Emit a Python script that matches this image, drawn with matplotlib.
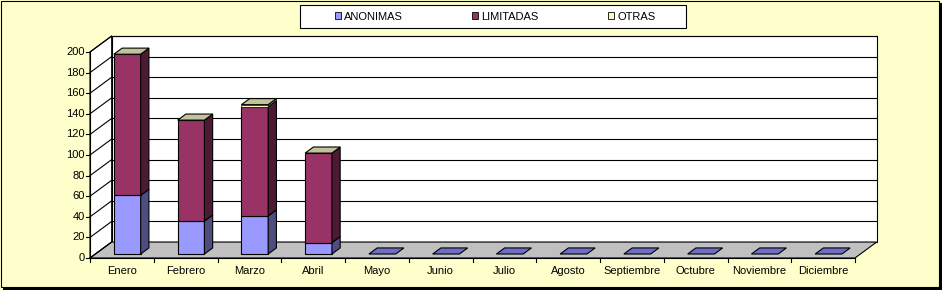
"""
Sociedades constituidas por mes — grafico de barras apiladas estilo 3D (Excel)
"""

import matplotlib.pyplot as plt
from matplotlib.patches import Rectangle, Polygon
from matplotlib.lines import Line2D

plt.rcParams["font.family"] = ["Liberation Sans", "DejaVu Sans"]

# ── Datos ──────────────────────────────────────────────────────────────────────
MESES = ["Enero", "Febrero", "Marzo", "Abril", "Mayo", "Junio", "Julio",
         "Agosto", "Septiembre", "Octubre", "Noviembre", "Diciembre"]
ANONIMAS = [57, 32, 37, 11, 0, 0, 0, 0, 0, 0, 0, 0]
LIMITADAS = [137, 98, 106, 87, 0, 0, 0, 0, 0, 0, 0, 0]
OTRAS = [0, 0, 2, 0, 0, 0, 0, 0, 0, 0, 0, 0]
SERIES = ["ANONIMAS", "LIMITADAS", "OTRAS"]
Y_TICKS = list(range(0, 201, 20))

# ── Estilo ─────────────────────────────────────────────────────────────────────
BG = "#FFFFCC"
FRONT = ["#9999FF", "#993366", "#FFFFCC"]
SIDE = ["#4D4D80", "#4D1A33", "#80805F"]
TOP_COLOR = "#C3C39B"
FLAT_COLOR = "#6E6EC4"
FLOOR = "#C0C0C0"
LW = 0.8

W, H = 942, 290
fig = plt.figure(figsize=(W / 100, H / 100), dpi=100, facecolor=BG)

# marco con sombra
fig.patches.append(Rectangle((0.5 / W, 3 / H), (W - 4) / W, (H - 3.5) / H,
                             transform=fig.transFigure, fill=False,
                             edgecolor="black", lw=LW))
fig.patches.append(Rectangle(((W - 3.5) / W, 0), 3.5 / W, (H - 3) / H,
                             transform=fig.transFigure, color="black", lw=0))
fig.patches.append(Rectangle((3 / W, 0), (W - 3) / W, 3.2 / H,
                             transform=fig.transFigure, color="black", lw=0))

# ejes: x = categoria, y = valor (frente del grafico)
ax = fig.add_axes([90 / W, 32 / H, 765 / W, 206 / H])
ax.set_xlim(0, len(MESES))
ax.set_ylim(0, 200)
ax.axis("off")

n = len(MESES)
DX, DY = 0.34, 15.5          # profundidad del grafico (unidades de datos)
ymax = Y_TICKS[-1]


def poly(pts, fc, z, lw=LW):
    ax.add_patch(Polygon(pts, closed=True, facecolor=fc, edgecolor="black",
                         lw=lw, clip_on=False, zorder=z))


def line(xs, ys, z=2):
    ax.add_line(Line2D(xs, ys, color="black", lw=LW, clip_on=False, zorder=z))


# paredes y suelo
poly([(DX, DY), (n + DX, DY), (n + DX, ymax + DY), (DX, ymax + DY)], "white", 1)
poly([(0, 0), (DX, DY), (DX, ymax + DY), (0, ymax)], "white", 1)
poly([(0, 0), (n, 0), (n + DX, DY), (DX, DY)], FLOOR, 1)

for v in Y_TICKS:
    line([0, DX], [v, v + DY])
    if v > 0:
        line([DX, n + DX], [v + DY, v + DY])
    line([-0.065, 0], [v, v])
    ax.text(-0.08, v, str(v), ha="right", va="center", fontsize=8)

line([0, 0], [0, ymax], 3)
line([0, n], [0, 0], 3)
for k in range(n + 1):
    line([k, k], [0, -4], 3)
for i, m in enumerate(MESES):
    ax.text(i + 0.5, -13, m, ha="center", va="center", fontsize=8)

# barras apiladas
F0, F1, BW = 0.25, 0.63, 0.42
ddx, ddy = (F1 - F0) * DX, (F1 - F0) * DY
for i in range(n):
    x0 = i + 0.5 - BW / 2 + F0 * DX
    base = F0 * DY
    bottom = 0
    for s, vals in enumerate([ANONIMAS, LIMITADAS, OTRAS]):
        v = vals[i]
        if v > 0:
            b, t = base + bottom, base + bottom + v
            poly([(x0, b), (x0 + BW, b), (x0 + BW, t), (x0, t)], FRONT[s], 5,
                 0.5 if v < 5 else LW)
            poly([(x0 + BW, b), (x0 + BW + ddx, b + ddy),
                  (x0 + BW + ddx, t + ddy), (x0 + BW, t)], SIDE[s], 5,
                 0.5 if v < 5 else LW)
        bottom += v
    t = base + bottom
    poly([(x0, t), (x0 + BW, t), (x0 + BW + ddx, t + ddy), (x0 + ddx, t + ddy)],
         TOP_COLOR if bottom > 0 else FLAT_COLOR, 6)

# leyenda
fig.patches.append(Rectangle((300 / W, 1 - 28 / H), 386 / W, 23 / H,
                             transform=fig.transFigure, facecolor="white",
                             edgecolor="black", lw=LW))
handles = [Rectangle((0, 0), 1, 1, facecolor=c, edgecolor="black", lw=0.6)
           for c in FRONT]
fig.legend(handles, SERIES, loc="center", bbox_to_anchor=(495 / W, 1 - 16.5 / H),
           ncol=3, frameon=False, fontsize=8, handlelength=0.55, handleheight=0.55,
           handletextpad=0.3, columnspacing=6.2, borderpad=0)

fig.savefig("out.png", dpi=100, facecolor=BG)
